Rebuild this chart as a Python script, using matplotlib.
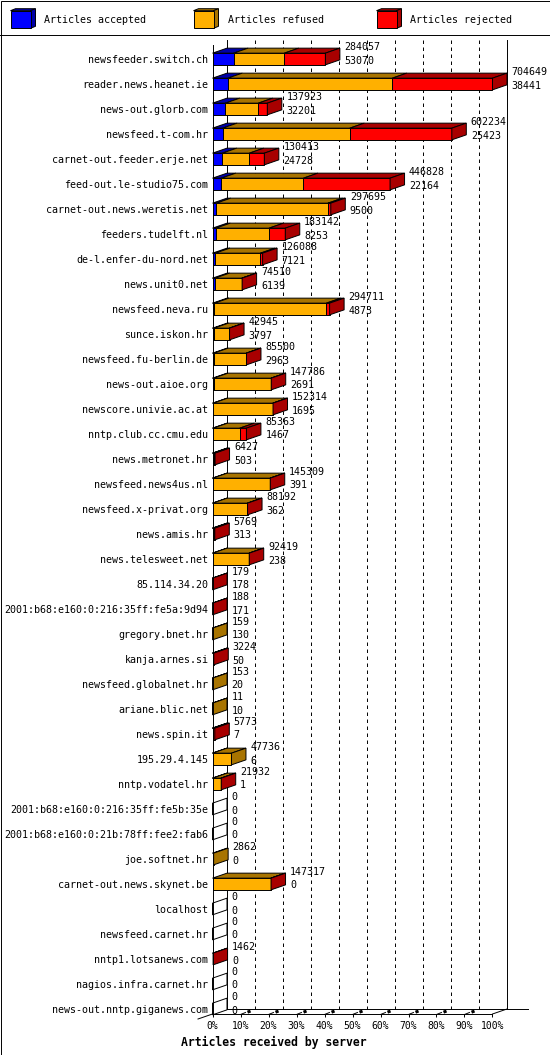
import matplotlib
matplotlib.use("Agg")
import matplotlib.pyplot as plt
from matplotlib.patches import Polygon, Rectangle

servers = [
    "newsfeeder.switch.ch", "reader.news.heanet.ie", "news-out.glorb.com",
    "newsfeed.t-com.hr", "carnet-out.feeder.erje.net", "feed-out.le-studio75.com",
    "carnet-out.news.weretis.net", "feeders.tudelft.nl", "de-l.enfer-du-nord.net",
    "news.unit0.net", "newsfeed.neva.ru", "sunce.iskon.hr",
    "newsfeed.fu-berlin.de", "news-out.aioe.org", "newscore.univie.ac.at",
    "nntp.club.cc.cmu.edu", "news.metronet.hr", "newsfeed.news4us.nl",
    "newsfeed.x-privat.org", "news.amis.hr", "news.telesweet.net",
    "85.114.34.20", "2001:b68:e160:0:216:35ff:fe5a:9d94", "gregory.bnet.hr",
    "kanja.arnes.si", "newsfeed.globalnet.hr", "ariane.blic.net",
    "news.spin.it", "195.29.4.145", "nntp.vodatel.hr",
    "2001:b68:e160:0:216:35ff:fe5b:35e", "2001:b68:e160:0:21b:78ff:fee2:fab6",
    "joe.softnet.hr", "carnet-out.news.skynet.be", "localhost",
    "newsfeed.carnet.hr", "nntp1.lotsanews.com", "nagios.infra.carnet.hr",
    "news-out.nntp.giganews.com",
]
totals = [
    284057, 704649, 137923, 602234, 130413, 446828, 297695, 183142, 126088,
    74510, 294711, 42945, 85500, 147786, 152314, 85363, 6427, 145309,
    88192, 5769, 92419, 179, 188, 159, 3224, 153, 11, 5773, 47736, 21932,
    0, 0, 2862, 147317, 0, 0, 1462, 0, 0,
]
accepted = [
    53070, 38441, 32201, 25423, 24728, 22164, 9500, 8253, 7121,
    6139, 4873, 3797, 2963, 2691, 1695, 1467, 503, 391,
    362, 313, 238, 178, 171, 130, 50, 20, 10, 7, 6, 1,
    0, 0, 0, 0, 0, 0, 0, 0, 0,
]
# estimated from the bar segments
refused = [
    127600, 414000, 83000, 320000, 68000, 206600, 281000, 134000, 113500,
    67500, 281500, 38600, 82000, 144500, 150000, 67000, 3000, 144300,
    87300, 2500, 91600, 0, 0, 29, 1000, 133, 1, 2000, 47730, 21000,
    0, 0, 2862, 146800, 0, 0, 0, 0, 0,
]
rejected = [t - a - r for t, a, r in zip(totals, accepted, refused)]

series_names = ["Articles accepted", "Articles refused", "Articles rejected"]
face = ["#0000ff", "#ffb000", "#ff0000"]
shade = ["#0000a8", "#a87400", "#a80000"]

W, H = 550, 1055
LW = 0.7
MONO = "DejaVu Sans Mono"

fig = plt.figure(figsize=(W / 100, H / 100), dpi=100)

# background layer in pixel units: border + legend
bg = fig.add_axes([0, 0, 1, 1])
bg.set_xlim(0, W)
bg.set_ylim(H, 0)
bg.axis("off")
bg.add_patch(Rectangle((0.5, 0.5), W - 1, H - 1, fill=False, ec="black", lw=LW))
bg.plot([0, W], [35, 35], color="black", lw=LW)
for k, name in enumerate(series_names):
    x0 = 10.5 + k * 183
    y0, y1 = 10.7, 28.3
    d, e = 5, 2
    bg.add_patch(Polygon([(x0, y0), (x0 + 20, y0), (x0 + 20 + d, y0 - e), (x0 + d, y0 - e)],
                         fc=shade[k], ec="black", lw=LW))
    bg.add_patch(Polygon([(x0 + 20, y0), (x0 + 20 + d, y0 - e), (x0 + 20 + d, y1 - e), (x0 + 20, y1)],
                         fc=shade[k], ec="black", lw=LW))
    bg.add_patch(Rectangle((x0, y0), 20, y1 - y0, fc=face[k], ec="black", lw=LW))
    bg.text(x0 + 34, 20.3, name, fontsize=7.2, family=MONO, va="center", ha="left")

# main plot: x in articles, y in rows
ax = fig.add_axes([212.5 / W, 41 / H, 280 / W, 974 / H])
ax.patch.set_alpha(0)
vmax = max(totals)
n = len(servers)
y_top, y_floor = -0.76, 38.2
ax.set_xlim(0, vmax)
ax.set_ylim(y_floor, y_top)

px_x = vmax / 280.0
px_y = 1 / 25.0
DX = 14.5 * px_x
DY = -5 * px_y
BAR_H = 11.7 * px_y

# back wall, grid, floor
ax.plot([DX, DX], [y_top, y_floor + DY], color="black", lw=LW, clip_on=False, zorder=1)
ax.plot([vmax + DX, vmax + DX], [y_top, y_floor + DY], color="black", lw=LW, clip_on=False, zorder=1)
ax.plot([0, 0], [y_top - DY, y_floor], color="black", lw=LW, clip_on=False, zorder=4)
for k in range(1, 10):
    gx = vmax * k / 10 + DX
    ax.plot([gx, gx], [y_top, y_floor + DY], color="black", lw=LW,
            ls=(0, (3.6, 3.6)), clip_on=False, zorder=1)
ax.plot([DX, vmax + DX + 21 * px_x], [y_floor + DY, y_floor + DY],
        color="black", lw=LW, clip_on=False, zorder=1)
ax.plot([-DX, DX], [y_floor - DY, y_floor + DY], color="black", lw=LW, clip_on=False)
ax.plot([vmax, vmax + DX], [y_floor, y_floor + DY], color="black", lw=LW, clip_on=False)
for k in range(1, 10):
    tx = vmax * k / 10
    ax.plot([tx, tx + 5 * px_x], [y_floor + 0.5 * px_y, y_floor - 1.5 * px_y],
            color="black", lw=LW, clip_on=False)
    ax.plot([tx + 7 * px_x, tx + 10 * px_x], [y_floor - 1.8 * px_y, y_floor - 3.0 * px_y],
            color="black", lw=2.2, clip_on=False, solid_capstyle="butt")

# bars
for i in range(n):
    vals = [accepted[i], refused[i], rejected[i]]
    top = i - BAR_H / 2
    bot = i + BAR_H / 2
    left = 0
    last = None
    for k, v in enumerate(vals):
        if v <= 0:
            continue
        right = left + v
        ax.add_patch(Polygon([(left, top), (right, top), (right, bot), (left, bot)],
                             fc=face[k], ec="black", lw=LW, clip_on=False, zorder=3))
        ax.add_patch(Polygon([(left, top), (right, top), (right + DX, top + DY), (left + DX, top + DY)],
                             fc=shade[k], ec="black", lw=LW, clip_on=False, zorder=3))
        left = right
        last = k
    side = shade[last] if last is not None else "white"
    ax.add_patch(Polygon([(left, top), (left + DX, top + DY), (left + DX, bot + DY), (left, bot)],
                         fc=side, ec="black", lw=LW, clip_on=False, zorder=3))
    tx = left + DX + 4.5 * px_x
    ax.text(tx, i - 11.9 * px_y, str(totals[i]), fontsize=7.2, family=MONO,
            ha="left", va="center", clip_on=False, zorder=5)
    ax.text(tx, i + 1.5 * px_y, str(accepted[i]), fontsize=7.2, family=MONO,
            ha="left", va="center", clip_on=False, zorder=5)

for s in ["top", "right", "left"]:
    ax.spines[s].set_visible(False)
ax.spines["bottom"].set_linewidth(LW)

ax.set_yticks(range(n))
ax.set_yticklabels(servers, fontsize=7.2, family=MONO)
ax.tick_params(axis="y", length=0, pad=2.9)
ax.set_xticks([vmax * k / 10 for k in range(11)])
ax.set_xticklabels([f"{10 * k}%" for k in range(11)], fontsize=7, family=MONO)
ax.tick_params(axis="x", length=2.2, width=LW, pad=2.5)

fig.text(273.6 / W, 1 - 1042 / H, "Articles received by server", fontsize=8.3,
         family=MONO, fontweight="bold", ha="center", va="center")

fig.savefig("out.png", dpi=100)
